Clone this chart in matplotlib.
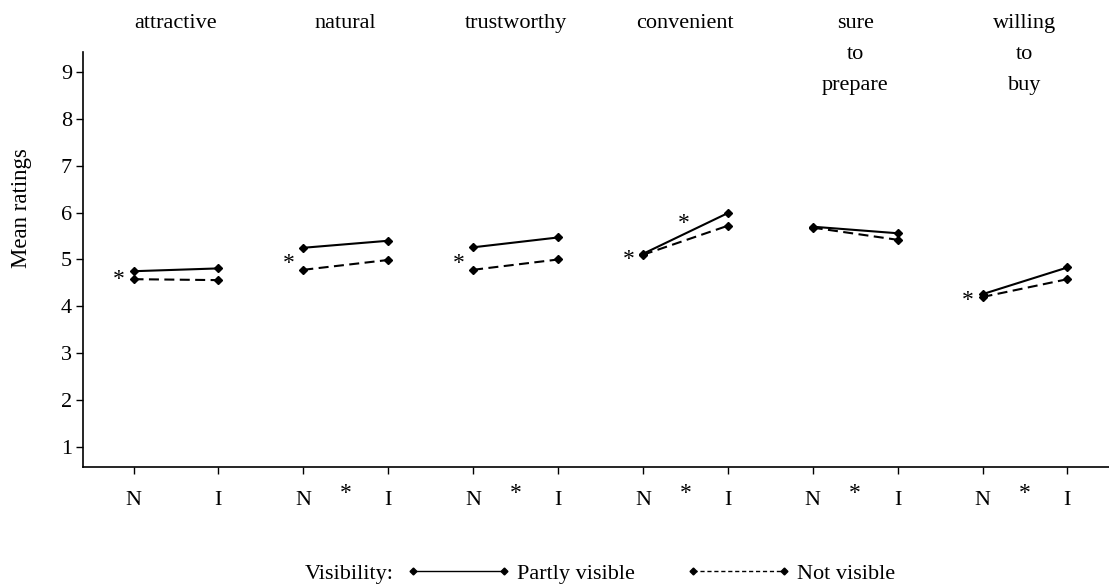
import matplotlib
matplotlib.use("Agg")
import matplotlib.pyplot as plt
from matplotlib.lines import Line2D
from matplotlib.transforms import blended_transform_factory
import numpy as np

# ---- data ----
categories = ["attractive", "natural", "trustworthy", "convenient",
              "sure\nto\nprepare", "willing\nto\nbuy"]
levels = ["N", "I"]
partly_N = [4.75, 5.25, 5.26, 5.12, 5.70, 4.26]
partly_I = [4.81, 5.40, 5.47, 5.99, 5.56, 4.83]
not_N = [4.58, 4.78, 4.78, 5.10, 5.68, 4.20]
not_I = [4.56, 4.99, 5.00, 5.72, 5.42, 4.58]
sig_at_N = [1, 1, 1, 1, 0, 1]          # visibility effect at N
sig_NI = [0, 1, 1, 1, 1, 1]            # N vs I effect
sig_interaction = [0, 0, 0, 1, 0, 0]   # interaction
yticks = [1, 2, 3, 4, 5, 6, 7, 8, 9]

plt.rcParams['font.family'] = ['Liberation Serif', 'DejaVu Serif']
plt.rcParams['font.size'] = 16

fig = plt.figure(figsize=(11.09, 5.87), dpi=100)
ax = fig.add_axes([83/1109, 120/587, 1 - 83/1109, (467-52)/587])

xN = np.arange(len(categories)) * 2 + 1
xI = xN + 1
ms = 4.5
for i in range(len(categories)):
    ax.plot([xN[i], xI[i]], [partly_N[i], partly_I[i]], color='black', lw=1.5,
            marker='D', ms=ms, solid_capstyle='butt')
    ax.plot([xN[i], xI[i]], [not_N[i], not_I[i]], color='black', lw=1.5,
            marker='D', ms=ms, linestyle=(0, (4.8, 2.6)))

ax.set_xlim(0.405, 12.49)
ax.set_ylim(0.573, 9.427)
ax.set_yticks(yticks)
xt = np.ravel(np.column_stack([xN, xI]))
ax.set_xticks(xt)
ax.set_xticklabels(levels * len(categories))
ax.tick_params(axis='y', direction='out', length=5, width=1, pad=3)
ax.tick_params(axis='x', direction='out', length=5, width=1, pad=12)
for s in ['top', 'right']:
    ax.spines[s].set_visible(False)
for s in ['left', 'bottom']:
    ax.spines[s].set_linewidth(1.2)

# category titles
tr_top = blended_transform_factory(ax.transData, fig.transFigure)
for i, c in enumerate(categories):
    ax.text((xN[i] + xI[i]) / 2, 1 - 14/587, c, transform=tr_top, ha='center',
            va='top', linespacing=1.85, clip_on=False)

# significance asterisks
tr_lab = blended_transform_factory(ax.transData, ax.transAxes)
for i in range(len(categories)):
    if sig_at_N[i]:
        ax.text(xN[i] - 0.17, (partly_N[i] + not_N[i]) / 2 - 0.1, '*',
                ha='center', va='center', fontsize=17)
    if sig_NI[i]:
        ax.text((xN[i] + xI[i]) / 2, -0.065, '*', transform=tr_lab,
                ha='center', va='center', fontsize=17, clip_on=False)
    if sig_interaction[i]:
        ax.text((xN[i] + xI[i]) / 2 - 0.02,
                (partly_N[i] + partly_I[i]) / 2 + 0.21, '*',
                ha='center', va='center', fontsize=17)

fig.text(22/1109, 1 - 208/587, 'Mean ratings', rotation=90, ha='center',
         va='center', fontsize=16.5)

# legend
fig.text(305/1109, 1 - 574/587, 'Visibility:', ha='left', va='center')
h1 = Line2D([], [], color='black', lw=1.0, marker='D', ms=3.5)
h2 = Line2D([], [], color='black', lw=1.0, marker='D', ms=3.5,
            linestyle=(0, (3, 2)))
fig.legend([h1, h2], ['Partly visible', 'Not visible'], ncol=2,
           frameon=False, loc='center left',
           bbox_to_anchor=(406/1109, 1 - 574/587),
           handlelength=4.7, handletextpad=0.3, columnspacing=2.3,
           borderpad=0, borderaxespad=0, numpoints=2)

fig.savefig('out.png', dpi=100)
